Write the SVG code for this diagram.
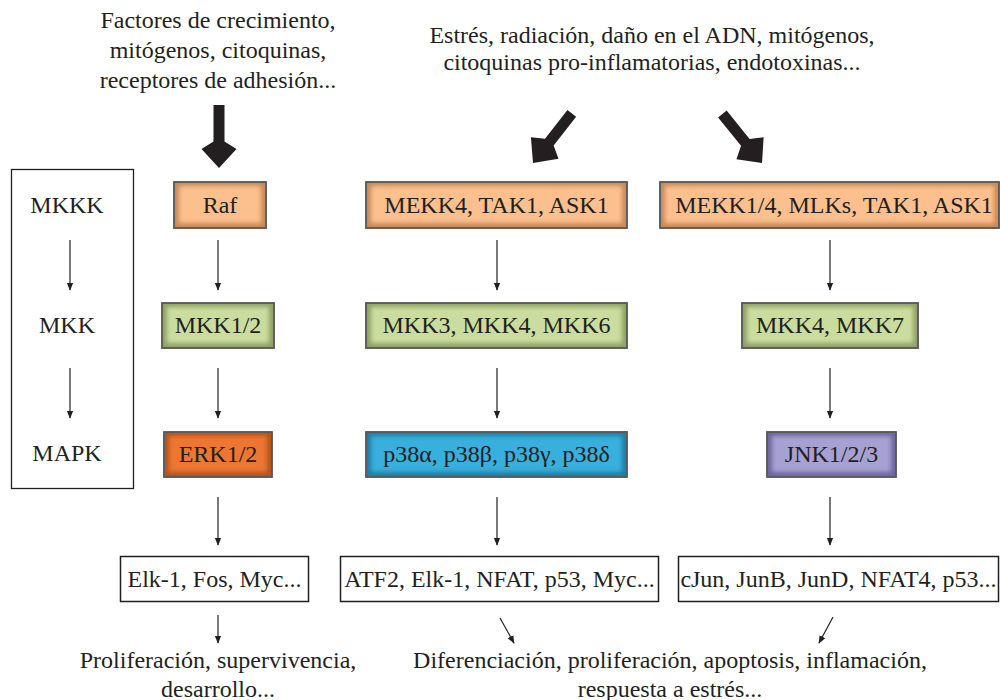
<svg xmlns="http://www.w3.org/2000/svg" xmlns:xlink="http://www.w3.org/1999/xlink" width="1000" height="700" viewBox="0 0 1000 700">
<defs>
<style>
text{font-family:"Liberation Serif","Times New Roman",serif;font-size:24px;fill:#231f20;text-anchor:middle}
.frame{stroke:#5a5a5a;stroke-width:1.5}
.tf{fill:#fff;stroke:#231f20;stroke-width:1.5}
.thin{stroke:#231f20;stroke-width:1.2;fill:none;marker-end:url(#ah)}
.big{fill:#231f20}
</style>
<marker id="ah" viewBox="0 0 10 10" refX="9" refY="5" markerWidth="8" markerHeight="8" markerUnits="userSpaceOnUse" orient="auto">
<path d="M0,1 L10,5 L0,9 Z" fill="#231f20"/>
</marker>
<filter id="soft" x="-10%" y="-20%" width="120%" height="140%"><feGaussianBlur stdDeviation="2.2"/></filter>
<path id="bigArrow" d="M-5.5,-63 L5.5,-63 L5.5,-26.5 L17.5,-19 L0,0 L-17.5,-19 L-5.5,-26.5 Z"/>
</defs>

<!-- top labels -->
<g id="input-growth">
<text x="218" y="28">Factores de crecimiento,</text>
<text x="218" y="58">mitógenos, citoquinas,</text>
<text x="218" y="88">receptores de adhesión...</text>
</g>
<g id="input-stress">
<text x="652" y="43">Estrés, radiación, daño en el ADN, mitógenos,</text>
<text x="652" y="70">citoquinas pro-inflamatorias, endotoxinas...</text>
</g>

<!-- legend panel -->
<g id="legend">
<rect x="11.5" y="169.5" width="122" height="319" fill="#fff" stroke="#231f20" stroke-width="1.3"/>
<text x="67" y="213">MKKK</text>
<text x="67" y="333">MKK</text>
<text x="67" y="461">MAPK</text>
<line class="thin" x1="70" y1="240" x2="70" y2="290"/>
<line class="thin" x1="70" y1="368" x2="70" y2="418"/>
</g>

<!-- MKKK level -->
<g id="raf">
<rect class="frame" x="174" y="182" width="92" height="46" fill="#c98a58"/>
<rect x="179" y="186" width="82" height="37" fill="#fbc08e" filter="url(#soft)"/>
<rect x="174" y="182" width="92" height="46" fill="none" class="frame"/>
<text x="220" y="213">Raf</text>
</g>
<g id="mekk4">
<rect class="frame" x="366" y="182" width="261" height="46" fill="#c98a58"/>
<rect x="371" y="186" width="251" height="37" fill="#fbc08e" filter="url(#soft)"/>
<rect x="366" y="182" width="261" height="46" fill="none" class="frame"/>
<text x="496.5" y="213">MEKK4, TAK1, ASK1</text>
</g>
<g id="mekk1">
<rect class="frame" x="660" y="182" width="339" height="46" fill="#c98a58"/>
<rect x="665" y="186" width="329" height="37" fill="#fbc08e" filter="url(#soft)"/>
<rect x="660" y="182" width="339" height="46" fill="none" class="frame"/>
<text x="834" y="213">MEKK1/4, MLKs, TAK1, ASK1</text>
</g>

<!-- MKK level -->
<g id="mkk12">
<rect class="frame" x="162" y="303" width="112" height="45" fill="#8fa364"/>
<rect x="167" y="307" width="102" height="36" fill="#cadd9f" filter="url(#soft)"/>
<rect x="162" y="303" width="112" height="45" fill="none" class="frame"/>
<text x="218" y="333">MKK1/2</text>
</g>
<g id="mkk346">
<rect class="frame" x="366" y="303" width="261" height="45" fill="#8fa364"/>
<rect x="371" y="307" width="251" height="36" fill="#cadd9f" filter="url(#soft)"/>
<rect x="366" y="303" width="261" height="45" fill="none" class="frame"/>
<text x="496.5" y="333">MKK3, MKK4, MKK6</text>
</g>
<g id="mkk47">
<rect class="frame" x="742" y="303" width="176" height="45" fill="#8fa364"/>
<rect x="747" y="307" width="166" height="36" fill="#cadd9f" filter="url(#soft)"/>
<rect x="742" y="303" width="176" height="45" fill="none" class="frame"/>
<text x="830" y="333">MKK4, MKK7</text>
</g>

<!-- MAPK level -->
<g id="erk">
<rect class="frame" x="164" y="432" width="108" height="45" fill="#b5531b"/>
<rect x="169" y="436" width="98" height="36" fill="#ec7630" filter="url(#soft)"/>
<rect x="164" y="432" width="108" height="45" fill="none" class="frame"/>
<text x="218" y="462">ERK1/2</text>
</g>
<g id="p38">
<rect class="frame" x="366" y="432" width="261" height="45" fill="#1e7ea6"/>
<rect x="371" y="436" width="251" height="36" fill="#38afdc" filter="url(#soft)"/>
<rect x="366" y="432" width="261" height="45" fill="none" class="frame"/>
<text x="496.5" y="462">p38α, p38β, p38γ, p38δ</text>
</g>
<g id="jnk">
<rect class="frame" x="767" y="432" width="129" height="45" fill="#6c669e"/>
<rect x="772" y="436" width="119" height="36" fill="#a6a1d2" filter="url(#soft)"/>
<rect x="767" y="432" width="129" height="45" fill="none" class="frame"/>
<text x="831.5" y="462">JNK1/2/3</text>
</g>

<!-- transcription factor boxes -->
<g id="tf-erk">
<rect class="tf" x="120.5" y="556.5" width="188" height="45"/>
<text x="214.5" y="587">Elk-1, Fos, Myc...</text>
</g>
<g id="tf-p38">
<rect class="tf" x="340.5" y="556.5" width="318" height="45"/>
<text x="499.5" y="587">ATF2, Elk-1, NFAT, p53, Myc...</text>
</g>
<g id="tf-jnk">
<rect class="tf" x="678.5" y="556.5" width="320" height="45"/>
<text x="838.5" y="587">cJun, JunB, JunD, NFAT4, p53...</text>
</g>

<!-- outcomes -->
<g id="out-erk">
<text x="218" y="668">Proliferación, supervivencia,</text>
<text x="218" y="697">desarrollo...</text>
</g>
<g id="out-stress">
<text x="670" y="668">Diferenciación, proliferación, apoptosis, inflamación,</text>
<text x="670" y="697">respuesta a estrés...</text>
</g>

<!-- connectors -->
<g id="connectors">
<use xlink:href="#bigArrow" class="big" transform="translate(219,168)"/>
<use xlink:href="#bigArrow" class="big" transform="translate(533,163) rotate(38)"/>
<use xlink:href="#bigArrow" class="big" transform="translate(762,163) rotate(-39)"/>
<line class="thin" x1="218" y1="240" x2="218" y2="290"/>
<line class="thin" x1="497" y1="240" x2="497" y2="290"/>
<line class="thin" x1="830" y1="240" x2="830" y2="290"/>
<line class="thin" x1="218" y1="368" x2="218" y2="418"/>
<line class="thin" x1="497" y1="368" x2="497" y2="418"/>
<line class="thin" x1="830" y1="368" x2="830" y2="418"/>
<line class="thin" x1="218" y1="497" x2="218" y2="545"/>
<line class="thin" x1="497" y1="497" x2="497" y2="545"/>
<line class="thin" x1="830" y1="497" x2="830" y2="545"/>
<line class="thin" x1="218" y1="615" x2="218" y2="643"/>
<line class="thin" x1="500" y1="618" x2="514" y2="643"/>
<line class="thin" x1="833" y1="617" x2="819" y2="643"/>
</g>
</svg>
